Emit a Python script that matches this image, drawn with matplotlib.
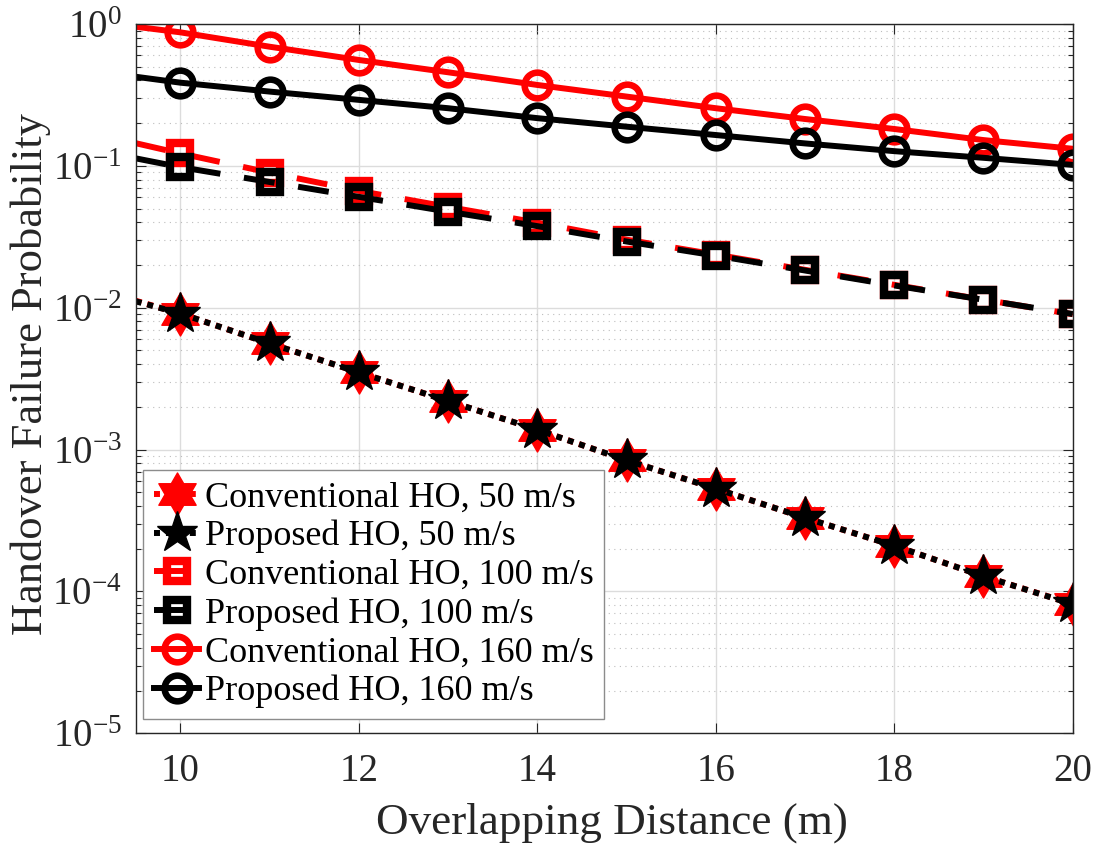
import numpy as np
import matplotlib
matplotlib.use("Agg")
import matplotlib.pyplot as plt
from matplotlib.path import Path
from matplotlib.ticker import LogLocator, FuncFormatter, NullFormatter

# ---------------- data ----------------
distance = [9.5, 10, 11, 12, 13, 14, 15, 16, 17, 18, 19, 20]
conv_50 = [0.0112, 0.0091, 0.0056, 0.0035, 0.0022, 0.00138, 0.00084, 0.00053,
           0.00033, 0.00021, 0.000128, 0.0000815]
prop_50 = [0.0111, 0.0091, 0.0056, 0.0035, 0.0022, 0.00138, 0.00084, 0.00053,
           0.00033, 0.00021, 0.000128, 0.0000812]
conv_100 = [0.1445, 0.1224, 0.0896, 0.0667, 0.0514, 0.0398, 0.0302, 0.0237,
            0.0185, 0.0145, 0.0114, 0.0090]
prop_100 = [0.113, 0.098, 0.077, 0.0605, 0.0476, 0.0376, 0.0293, 0.0233,
            0.0183, 0.01436, 0.01138, 0.00903]
conv_160 = [0.957, 0.874, 0.692, 0.558, 0.457, 0.372, 0.308, 0.255,
            0.214, 0.182, 0.152, 0.132]
prop_160 = [0.425, 0.386, 0.334, 0.292, 0.255, 0.217, 0.189, 0.165,
            0.144, 0.127, 0.114, 0.1016]

labels = ["Conventional HO, 50 m/s", "Proposed HO, 50 m/s",
          "Conventional HO, 100 m/s", "Proposed HO, 100 m/s",
          "Conventional HO, 160 m/s", "Proposed HO, 160 m/s"]
x_ticks = [10, 12, 14, 16, 18, 20]
x_label = "Overlapping Distance (m)"
y_label = "Handover Failure Probability"

# ---------------- style ----------------
plt.rcParams['font.family'] = ['Liberation Serif', 'DejaVu Serif']
plt.rcParams['mathtext.fontset'] = 'custom'
plt.rcParams['mathtext.rm'] = 'Liberation Serif'
plt.rcParams['mathtext.it'] = 'Liberation Serif:italic'
plt.rcParams['mathtext.bf'] = 'Liberation Serif:bold'
plt.rcParams['mathtext.default'] = 'regular'

TXT = '#262626'
RED = '#ff0000'
BLK = '#000000'
LW = 4.3
marks = list(range(1, len(distance)))
hexagram = Path.unit_regular_star(6, 0.577)

fig = plt.figure(figsize=(10.99, 8.49), dpi=100)
ax = fig.add_axes([0.1235, 0.1363, 0.8526, 0.8354])

dotted = (0, (1.0, 1.0))
dashed = (0, (5.2, 4.0))

ax.plot(distance, conv_50, color=RED, lw=LW, ls=dotted, marker=hexagram,
        ms=31, mfc=RED, mec=RED, mew=1.0, markevery=marks, label=labels[0])
ax.plot(distance, prop_50, color=BLK, lw=LW, ls=dotted, marker='*',
        ms=31, mfc=BLK, mec=BLK, mew=1.0, markevery=marks, label=labels[1])
ax.plot(distance, conv_100, color=RED, lw=LW, ls=dashed, marker='s',
        ms=14, mfc='none', mec=RED, mew=6.0, markevery=marks, label=labels[2])
ax.plot(distance, prop_100, color=BLK, lw=LW, ls=dashed, marker='s',
        ms=14, mfc='none', mec=BLK, mew=6.0, markevery=marks, label=labels[3])
ax.plot(distance, conv_160, color=RED, lw=LW, ls='-', marker='o',
        ms=18.5, mfc='none', mec=RED, mew=4.7, markevery=marks, label=labels[4])
ax.plot(distance, prop_160, color=BLK, lw=LW, ls='-', marker='o',
        ms=18.5, mfc='none', mec=BLK, mew=4.7, markevery=marks, label=labels[5])

ax.set_yscale('log')
ax.set_xlim(9.5, 20)
ax.set_ylim(1e-5, 1)
ax.set_xticks(x_ticks)
ax.set_xticklabels([str(t) for t in x_ticks])
ax.yaxis.set_major_locator(LogLocator(base=10, numticks=10))
ax.yaxis.set_minor_locator(LogLocator(base=10, subs=np.arange(2, 10), numticks=20))
ax.yaxis.set_major_formatter(FuncFormatter(lambda v, p: r'$10^{%d}$' % int(round(np.log10(v)))))
ax.yaxis.set_minor_formatter(NullFormatter())

ax.set_axisbelow(True)
ax.grid(True, which='major', axis='both', color='#dcdcdc', lw=1.0, ls='-')
ax.grid(True, which='minor', axis='y', color='#bdbdbd', lw=0.8, ls=(0, (1, 4)))

ax.tick_params(which='both', direction='in', top=True, right=True,
               colors=TXT, width=0.8)
ax.tick_params(which='major', length=7, labelsize=28)
ax.tick_params(which='minor', length=3.6)
ax.tick_params(axis='x', which='major', pad=14)
ax.tick_params(axis='y', which='major', pad=10)
for s in ax.spines.values():
    s.set_color(TXT)
    s.set_linewidth(1.0)

fig.text(612 / 1099, 1 - 834 / 849, x_label, ha='center', va='baseline',
         fontsize=32.5, color=TXT)
fig.text(31 / 1099, 1 - 374 / 849, y_label, ha='center', va='center',
         rotation=90, fontsize=32, color=TXT)

leg = ax.legend(loc='lower left', bbox_to_anchor=(0.0081, 0.0197),
                borderaxespad=0, fontsize=26, numpoints=1,
                handlelength=1.25, handletextpad=0.15, labelspacing=0.15,
                borderpad=0.3, fancybox=False, framealpha=1, edgecolor='#8c8c8c')
leg.get_frame().set_linewidth(1.0)

fig.savefig('out.png', dpi=100)
